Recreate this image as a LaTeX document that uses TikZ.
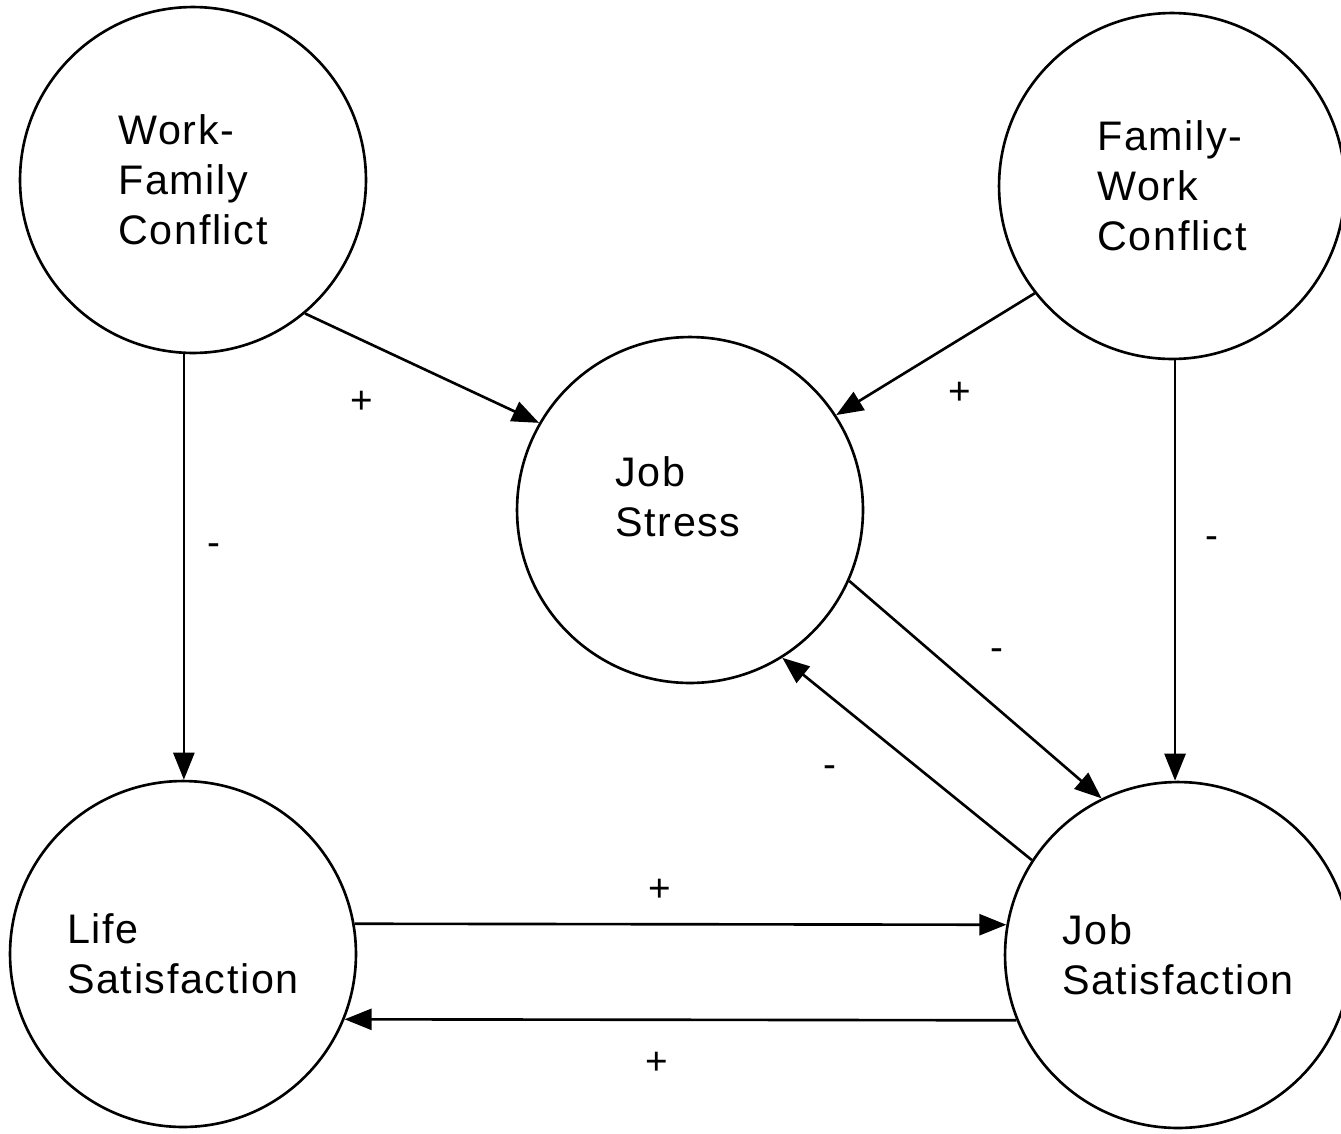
\documentclass[tikz,border=0pt]{standalone}
\usepackage{fontspec}
\setmainfont[LetterSpace=4]{Liberation Sans}
\usetikzlibrary{arrows.meta}

\tikzset{
  factor/.style={circle, draw, line width=1.5pt, minimum size=6.92cm, inner sep=0pt,
    align=left, font=\fontsize{23.5}{28.5}\selectfont},
  link/.style={line width=1.5pt, -{Triangle[length=0.54cm,width=0.42cm]}},
  sign/.style={inner sep=0pt, font=\fontsize{22}{22}\selectfont},
}

\begin{document}
\begin{tikzpicture}[x=0.02cm, y=-0.02cm]
\useasboundingbox (0,0) rectangle (1341,1133);
% круги
\node[factor] (wfc) at (193,180) {Work-\\Family\\Conflict};
\node[factor] (fwc) at (1172,186) {Family-\\Work\\Conflict};
\node[factor, label={[name=stresstext, align=left, font=\fontsize{23.5}{28.5}\selectfont,
  xshift=-0.24cm, yshift=0.26cm]center:{Job\\Stress}}] (stress) at (690,510) {};
\node[factor] (life) at (183,954) {Life\\Satisfaction};
\node[factor] (jobsat) at (1178,955) {Job\\Satisfaction};
% стрелки
\draw[link] (wfc.-50) -- (stress.150);
\draw[link] (fwc.-142) -- (stress.33);
\draw[link] (wfc.-93) -- (wfc.-93 |- life.north);
\draw[link] (fwc.-89) -- (fwc.-89 |- jobsat.north);
\draw[link] (stress.-24) -- (jobsat.116);
\draw[link] (jobsat.147) -- (stress.-58);
\draw[link] (life.10) -- (jobsat.170);
\draw[link] (jobsat.-158) -- (life.-22);
% знаки
\node[sign] (s1) at (362,402) {+};
\node[sign] (s2) at (960,393) {+};
\node[sign] (s3) at (214,550) {-};
\node[sign] (s4) at (1212,543) {-};
\node[sign] (s5) at (997,655) {-};
\node[sign] (s6) at (830,772) {-};
\node[sign] (s7) at (660,890) {+};
\node[sign] (s8) at (657,1063) {+};
\end{tikzpicture}
\end{document}
